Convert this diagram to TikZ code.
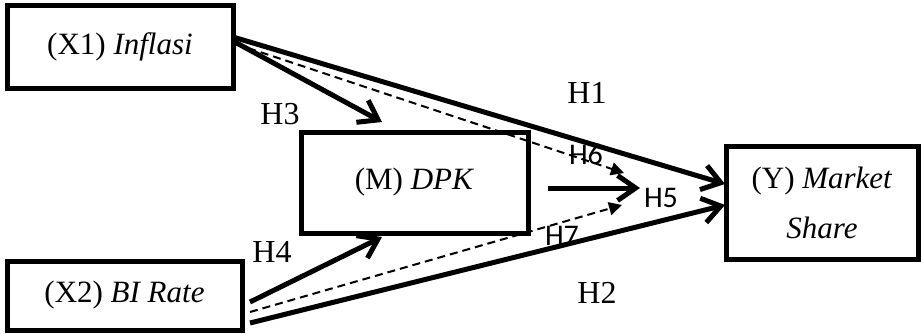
\documentclass[tikz,border=0pt]{standalone}
\usepackage{fontspec}
\setmainfont{Liberation Serif}
\newfontfamily\calib{Carlito}
\usetikzlibrary{arrows.meta}
\begin{document}
\begin{tikzpicture}[x=0.5pt,y=-0.5pt,
  boxnode/.style={draw,line width=2.5pt,inner sep=0pt,align=center,font=\fontsize{15.5}{25}\selectfont},
  thickarrow/.style={line width=2.5pt,-{Straight Barb[length=9pt,width=12.5pt,line width=2.5pt]}},
  dasharrow/.style={line width=1pt,dash pattern=on 4pt off 2.5pt,-{Triangle[length=6.5pt,width=6.5pt]}},
  hlab/.style={font=\fontsize{16}{18}\selectfont,inner sep=0pt},
  slab/.style={font=\calib\fontsize{15}{17}\selectfont,inner sep=0pt}]
\useasboundingbox (0,0) rectangle (921,333);
\node[boxnode,minimum width=113pt,minimum height=41.5pt] (x1) at (120,46.5) {\raisebox{3pt}{(X1) \textit{Inflasi}}};
\node[boxnode,minimum width=113.5pt,minimum height=50.5pt] (m) at (414.5,182.5) {\raisebox{4pt}{(M) \textit{DPK}}};
\node[boxnode,minimum width=117.5pt,minimum height=34.5pt] (x2) at (124.5,295.5) {\raisebox{2pt}{(X2) \textit{BI Rate}}};
\node[boxnode,minimum width=96pt,minimum height=56.5pt] (y) at (822,202.5) {(Y) \textit{Market}\\\textit{Share}};
% labels
\node[hlab] (h1) at (587,93) {H1};
\node[hlab] (h2) at (597,293) {H2};
\node[hlab] (h3) at (280,114) {H3};
\node[hlab] (h4) at (272,252) {H4};
\node[slab] (h5) at (661,198) {H5};
\node[slab] (h6) at (586,154) {H6};
\node[slab] (h7) at (562,236) {H7};
% coordinates
\coordinate (a1) at (233,37);
\coordinate (a3) at (233,41);
\coordinate (a6) at (236,44);
\coordinate (b4) at (250,302);
\coordinate (b7) at (250,312);
\coordinate (b2) at (250,323);
\coordinate (t1) at (725,184);
\coordinate (t2) at (725,205);
\coordinate (t3) at (382,122);
\coordinate (t4) at (382,237);
\coordinate (t6) at (624,173);
\coordinate (t7) at (622,205);
\coordinate (s5) at (548,188);
\coordinate (t5) at (640,188);
% connectors
\draw[dasharrow] (a6) -- (t6);
\draw[dasharrow] (b7) -- (t7);
\draw[thickarrow] (a1) -- (t1);
\draw[thickarrow] (b2) -- (t2);
\draw[thickarrow] (a3) -- (t3);
\draw[thickarrow] (b4) -- (t4);
\draw[thickarrow] (s5) -- (t5);
\end{tikzpicture}
\end{document}
